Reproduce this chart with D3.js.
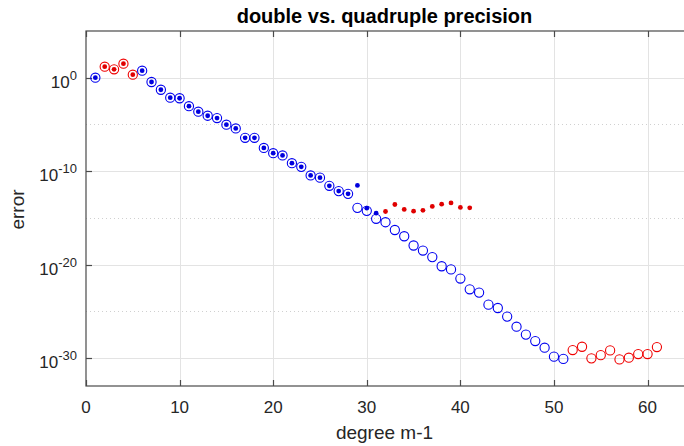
<!DOCTYPE html>
<html>
<head>
<meta charset="utf-8">
<script src="https://cdn.jsdelivr.net/npm/d3@7"></script>
<style>
  html, body { margin: 0; padding: 0; background: #fff; }
  svg { display: block; font-family: "Liberation Sans", Arial, Helvetica, sans-serif; }
  .grid line { stroke: #e3e3e3; stroke-width: 1; }
  .grid .minor { stroke: #d0d0d0; stroke-dasharray: 1 3; }
  .frame { stroke: #4a4a4a; stroke-width: 1.2; fill: none; }
  .tick-mark { stroke: #4a4a4a; stroke-width: 1.2; }
  .tick-label { fill: #262626; }
</style>
</head>
<body>
<svg id="chart" width="684" height="446"></svg>
<script>
// ---------------------------------------------------------------------------
// Data: log10(error) against degree m-1.
// Open circles = quadruple precision, dots = double precision.
// ---------------------------------------------------------------------------
const QUAD_DEGREES = d3.range(1, 62);
const QUAD_LOG10 = [
   0.00,  1.18,  0.90,  1.50,  0.32,  0.75, -0.46, -1.29, -2.14, -2.20,
  -3.05, -3.64, -4.07, -4.32, -5.03, -5.43, -6.43, -6.43, -7.52, -8.08,
  -8.32, -9.15, -9.54, -10.46, -10.70, -11.57, -12.14, -12.43, -13.93, -14.25,
  -15.10, -15.47, -16.30, -16.97, -17.96, -18.50, -19.20, -20.18, -20.52, -21.50,
  -22.65, -23.00, -24.29, -24.65, -25.57, -26.65, -27.50, -28.19, -28.90, -29.86,
  -30.10, -29.15, -28.80, -30.04, -29.70, -29.19, -30.15, -29.97, -29.58, -29.58,
  -28.83,
];
// degrees whose quadruple-precision marker is drawn in red
const QUAD_RED = [2, 3, 4, 5, 52, 53, 54, 55, 56, 57, 58, 59, 60, 61];

const DOUBLE_DEGREES = d3.range(1, 42);
const DOUBLE_LOG10 = [
   0.00,  1.18,  0.90,  1.50,  0.32,  0.75, -0.46, -1.29, -2.14, -2.20,
  -3.05, -3.64, -4.07, -4.32, -5.03, -5.43, -6.43, -6.43, -7.52, -8.08,
  -8.32, -9.15, -9.54, -10.46, -10.70, -11.57, -12.14, -12.43, -11.53, -13.96,
  -14.50, -14.32, -13.57, -14.10, -14.29, -14.20, -13.78, -13.54, -13.40, -13.89,
  -13.93,
];
// degrees whose double-precision marker is drawn in red
const DOUBLE_RED = [2, 3, 4, 5, 32, 33, 34, 35, 36, 37, 38, 39, 40, 41];

const X_TICKS = [0, 10, 20, 30, 40, 50, 60];
const Y_TICK_EXPONENTS = [0, -10, -20, -30];
const Y_MINOR_EXPONENTS = [-5, -15, -25];

const TITLE = "double vs. quadruple precision";
const X_LABEL = "degree m-1";
const Y_LABEL = "error";

const BLUE = "#0000f0";
const RED = "#f00000";

// ---------------------------------------------------------------------------
const MARGIN = { top: 31, left: 86 };
const innerW = 599;
const innerH = 355;

const svg = d3.select("#chart");
const g = svg.append("g").attr("transform", `translate(${MARGIN.left},${MARGIN.top})`);

const x = d3.scaleLinear().domain([0, 64]).range([0, innerW]);
const y = d3.scaleLog().domain([1e-33, 1e5]).range([innerH, 0]);

// gridlines
const grid = g.append("g").attr("class", "grid");
grid.selectAll("line.vx").data(X_TICKS.filter((d) => d > 0)).join("line")
  .attr("class", "vx")
  .attr("x1", (d) => Math.round(x(d)) + 0.5).attr("x2", (d) => Math.round(x(d)) + 0.5)
  .attr("y1", 0).attr("y2", innerH);
grid.selectAll("line.hy").data(Y_TICK_EXPONENTS).join("line")
  .attr("class", "hy")
  .attr("x1", 0).attr("x2", innerW)
  .attr("y1", (d) => Math.round(y(10 ** d)) + 0.5).attr("y2", (d) => Math.round(y(10 ** d)) + 0.5);
grid.selectAll("line.minor").data(Y_MINOR_EXPONENTS).join("line")
  .attr("class", "minor")
  .attr("x1", 0).attr("x2", innerW)
  .attr("y1", (d) => Math.round(y(10 ** d)) + 0.5).attr("y2", (d) => Math.round(y(10 ** d)) + 0.5);

// frame (box)
g.append("rect").attr("class", "frame")
  .attr("x", 0).attr("y", 0).attr("width", innerW).attr("height", innerH);

// inward tick marks
const TICK = 6;
const ticks = g.append("g");
X_TICKS.forEach((d) => {
  const px = Math.round(x(d)) + 0.5;
  ticks.append("line").attr("class", "tick-mark")
    .attr("x1", px).attr("x2", px).attr("y1", innerH).attr("y2", innerH - TICK);
  ticks.append("line").attr("class", "tick-mark")
    .attr("x1", px).attr("x2", px).attr("y1", 0).attr("y2", TICK);
});
Y_TICK_EXPONENTS.forEach((d) => {
  const py = Math.round(y(10 ** d)) + 0.5;
  ticks.append("line").attr("class", "tick-mark")
    .attr("x1", 0).attr("x2", TICK).attr("y1", py).attr("y2", py);
});

// x tick labels
g.append("g").selectAll("text").data(X_TICKS).join("text")
  .attr("class", "tick-label")
  .attr("x", (d) => x(d))
  .attr("y", innerH + 27)
  .attr("text-anchor", "middle")
  .attr("font-size", 17)
  .text((d) => d);

// y tick labels: 10^n
const yl = g.append("g").selectAll("text").data(Y_TICK_EXPONENTS).join("text")
  .attr("class", "tick-label")
  .attr("x", -9)
  .attr("y", (d) => y(10 ** d) + 10)
  .attr("text-anchor", "end")
  .attr("font-size", 17);
yl.append("tspan").text("10");
yl.append("tspan").attr("font-size", 13).attr("dy", -8).text((d) => d);

// markers: quadruple precision (open circles), double precision (dots)
const quad = QUAD_DEGREES.map((deg, i) => ({ deg, v: 10 ** QUAD_LOG10[i], red: QUAD_RED.includes(deg) }));
const dbl = DOUBLE_DEGREES.map((deg, i) => ({ deg, v: 10 ** DOUBLE_LOG10[i], red: DOUBLE_RED.includes(deg) }));

g.append("g").selectAll("circle").data(quad).join("circle")
  .attr("cx", (d) => x(d.deg))
  .attr("cy", (d) => y(d.v))
  .attr("r", 4.6)
  .attr("fill", "none")
  .attr("stroke", (d) => (d.red ? RED : BLUE))
  .attr("stroke-width", 1.1);

g.append("g").selectAll("circle").data(dbl).join("circle")
  .attr("cx", (d) => x(d.deg))
  .attr("cy", (d) => y(d.v))
  .attr("r", 2.4)
  .attr("fill", (d) => (d.red ? "#e00000" : "#0000dd"));

// title and axis labels
svg.append("text")
  .attr("x", MARGIN.left + innerW / 2 - 1)
  .attr("y", 23)
  .attr("text-anchor", "middle")
  .attr("font-size", 20)
  .attr("font-weight", "bold")
  .attr("fill", "#000")
  .text(TITLE);

svg.append("text")
  .attr("x", MARGIN.left + innerW / 2 - 1)
  .attr("y", 439)
  .attr("text-anchor", "middle")
  .attr("font-size", 19)
  .attr("fill", "#262626")
  .text(X_LABEL);

svg.append("text")
  .attr("transform", `translate(24,${MARGIN.top + innerH / 2 + 1}) rotate(-90)`)
  .attr("text-anchor", "middle")
  .attr("font-size", 19)
  .attr("fill", "#262626")
  .text(Y_LABEL);
</script>
</body>
</html>
